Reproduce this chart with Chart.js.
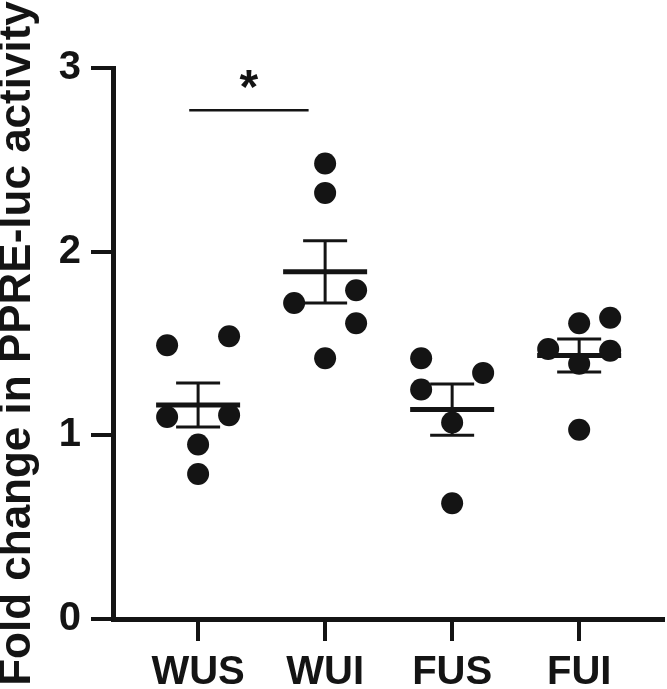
<!DOCTYPE html>
<html>
<head>
<meta charset="utf-8">
<script src="https://cdn.jsdelivr.net/npm/chart.js@4.4.0/dist/chart.umd.min.js"></script>
<style>
  html, body { margin: 0; padding: 0; background: #fff; }
  #wrap { width: 667px; height: 689px; }
</style>
</head>
<body>
<div id="wrap"><canvas id="chart"></canvas></div>
<script>
const groups = ['WUS', 'WUI', 'FUS', 'FUI']
const wusValues = [1.49, 1.54, 1.10, 1.11, 0.95, 0.79]
const wuiValues = [2.48, 2.32, 1.72, 1.79, 1.61, 1.42]
const fusValues = [1.42, 1.34, 1.25, 1.07, 0.63]
const fuiValues = [1.61, 1.64, 1.47, 1.46, 1.39, 1.03]
// which column a dot sits in: -1 left, 0 middle, 1 right
const wusSlots = [-1, 1, -1, 1, 0, 0]
const wuiSlots = [0, 0, -1, 1, 1, 0]
const fusSlots = [-1, 1, -1, 0, 0]
const fuiSlots = [0, 1, -1, 1, 0, 0]
const means = [1.165, 1.89, 1.14, 1.435]
const sems = [0.12, 0.17, 0.14, 0.09]
const yTicks = [0, 1, 2, 3]
// WUS vs WUI
const sigFrom = 0.93
const sigTo = 1.87
const sigLevel = 2.77
const sigText = '*'

const ink = '#141414'
const spread = 0.244
const boldFont = "'Liberation Sans', Arial, sans-serif"

const allValues = [wusValues, wuiValues, fusValues, fuiValues]
const allSlots = [wusSlots, wuiSlots, fusSlots, fuiSlots]

const dots = []
allValues.forEach((vals, g) => {
    vals.forEach((v, i) => {
        dots.push({ x: g + 1 + allSlots[g][i] * spread, y: v })
    })
})

const datasets = []
datasets.push({
    data: dots,
    pointRadius: 11,
    pointBackgroundColor: ink,
    pointBorderWidth: 0,
    pointHoverRadius: 11
})
datasets.push({
    data: means.map((m, i) => ({ x: i + 1, y: m })),
    pointStyle: 'line',
    pointRadius: 42,
    pointBorderWidth: 5,
    pointBorderColor: ink,
    pointHoverRadius: 42
})
datasets.push({
    data: means.flatMap((m, i) => [
        { x: i + 1, y: m - sems[i] },
        { x: i + 1, y: m + sems[i] }
    ]),
    pointStyle: 'line',
    pointRadius: 22,
    pointBorderWidth: 3,
    pointBorderColor: ink,
    pointHoverRadius: 22
})
means.forEach((m, i) => {
    datasets.push({
        data: [{ x: i + 1, y: m - sems[i] }, { x: i + 1, y: m + sems[i] }],
        showLine: true,
        borderColor: ink,
        borderWidth: 3,
        pointRadius: 0
    })
})
datasets.push({
    data: [{ x: sigFrom, y: sigLevel }, { x: sigTo, y: sigLevel }],
    showLine: true,
    borderColor: ink,
    borderWidth: 2.5,
    pointRadius: 0
})

const starPlugin = {
    id: 'star',
    afterDatasetsDraw(chart) {
        const ctx = chart.ctx
        const x = chart.scales.x.getPixelForValue((sigFrom + sigTo) / 2)
        const y = chart.scales.y.getPixelForValue(sigLevel + 0.17)
        ctx.save()
        ctx.font = 'bold 48px ' + boldFont
        ctx.fillStyle = ink
        ctx.textAlign = 'center'
        ctx.textBaseline = 'alphabetic'
        const m = ctx.measureText(sigText)
        const mid = (m.actualBoundingBoxAscent - m.actualBoundingBoxDescent) / 2
        ctx.fillText(sigText, x, y + mid)
        ctx.restore()
    }
}

new Chart(document.getElementById('chart'), {
    type: 'scatter',
    data: { datasets: datasets },
    plugins: [starPlugin],
    options: {
        responsive: true,
        maintainAspectRatio: false,
        animation: false,
        layout: { autoPadding: false, padding: { top: 68, right: 4, left: 0, bottom: 0 } },
        plugins: { legend: { display: false }, tooltip: { enabled: false } },
        scales: {
            x: {
                type: 'linear',
                min: 0.33,
                max: 4.66,
                afterBuildTicks: s => { s.ticks = groups.map((g, i) => ({ value: i + 1 })) },
                afterFit: s => {
                    s.height = 70
                    s.paddingLeft = 0
                    s.paddingRight = 0
                },
                ticks: {
                    callback: v => groups[v - 1],
                    color: ink,
                    font: { family: boldFont, size: 40, weight: 'bold' },
                    padding: 8,
                    maxRotation: 0,
                    autoSkip: false
                },
                grid: { drawOnChartArea: false, drawTicks: true, tickLength: 22, lineWidth: 4, color: ink },
                border: { display: true, color: ink, width: 5 }
            },
            y: {
                min: 0,
                max: 3,
                afterBuildTicks: s => { s.ticks = yTicks.map(v => ({ value: v })) },
                afterFit: s => {
                    s.width = 113
                    s.paddingTop = 0
                    s.paddingBottom = 0
                },
                ticks: {
                    color: ink,
                    font: { family: boldFont, size: 40, weight: 'bold' },
                    padding: 10
                },
                grid: { drawOnChartArea: false, drawTicks: true, tickLength: 22, lineWidth: 4, color: ink },
                border: { display: true, color: ink, width: 5 },
                title: {
                    display: true,
                    text: 'Fold change in PPRE-luc activity',
                    color: ink,
                    font: { family: boldFont, size: 44, weight: 'bold', lineHeight: 0.82 },
                    padding: 0
                }
            }
        }
    }
})
</script>
</body>
</html>
